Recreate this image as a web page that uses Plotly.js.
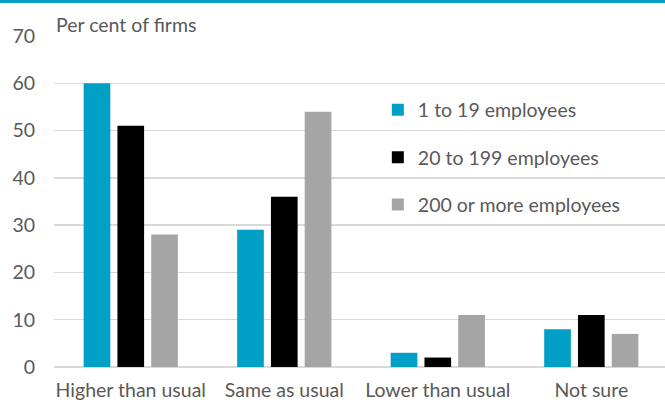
<!DOCTYPE html>
<html>
<head>
<meta charset="utf-8">
<script src="https://cdn.plot.ly/plotly-3.0.1.min.js"></script>
<style>
html,body{margin:0;padding:0;background:#fff;overflow:hidden;}
#chart{width:665px;height:403px;}
</style>
</head>
<body>
<div id="chart"></div>
<script>
var categories = ["Higher than usual", "Same as usual", "Lower than usual", "Not sure"];
var seriesNames = ["1 to 19 employees", "20 to 199 employees", "200 or more employees"];
var small = [60, 29, 3, 8];
var medium = [51, 36, 2, 11];
var large = [28, 54, 11, 7];
var yTicks = [0, 10, 20, 30, 40, 50, 60, 70];
var colors = ["#00a0c6", "#000000", "#a5a5a5"];

var values = [small, medium, large];
var data = values.map(function (v, i) {
  return {
    type: "bar",
    x: categories,
    y: v,
    name: seriesNames[i],
    legendgroup: "g" + i,
    marker: {color: colors[i], line: {width: 0}},
    hoverinfo: "x+y+name"
  };
});

var fam = "Lato, 'Open Sans', sans-serif";
var txt = "#595959";
var fs = 19.5;

var layout = {
  width: 665,
  height: 403,
  margin: {l: 54, r: 0, t: 36, b: 36},
  paper_bgcolor: "#ffffff",
  plot_bgcolor: "#ffffff",
  font: {family: fam, size: fs, color: txt},
  barmode: "group",
  bargap: 0.34,
  bargroupgap: 0.21,
  showlegend: true,
  legend: {
    x: 0.530, y: 0.835, xanchor: "left", yanchor: "top",
    bgcolor: "rgba(0,0,0,0)",
    font: {family: fam, size: fs, color: txt},
    tracegroupgap: 19,
    itemwidth: 30
  },
  xaxis: {
    type: "category",
    range: [-0.5, 3.48],
    showgrid: false,
    zeroline: false,
    showline: false,
    ticks: "",
    tickfont: {family: fam, size: fs, color: txt},
    ticklabelstandoff: 9
  },
  yaxis: {
    range: [0, 70],
    tickvals: yTicks,
    ticktext: yTicks.map(String),
    showgrid: true,
    gridcolor: "#d9d9d9",
    gridwidth: 1.5,
    zeroline: true,
    zerolinecolor: "#d9d9d9",
    zerolinewidth: 1.5,
    showline: false,
    ticks: "",
    tickfont: {family: fam, size: fs, color: txt},
    ticklabelstandoff: 18
  },
  annotations: [{
    text: "Per cent of firms",
    xref: "paper", yref: "paper",
    x: 0.0, y: 0.993,
    xanchor: "left", yanchor: "bottom",
    showarrow: false,
    font: {family: fam, size: fs, color: txt}
  }],
  shapes: [{
    type: "rect",
    xref: "paper", yref: "paper",
    x0: -0.1, x1: 1.02,
    y0: 1.0997, y1: 1.12,
    fillcolor: "#0a9cc4",
    line: {width: 0},
    layer: "above"
  }]
};

Plotly.newPlot("chart", data, layout, {displayModeBar: false, staticPlot: true});
</script>
</body>
</html>
